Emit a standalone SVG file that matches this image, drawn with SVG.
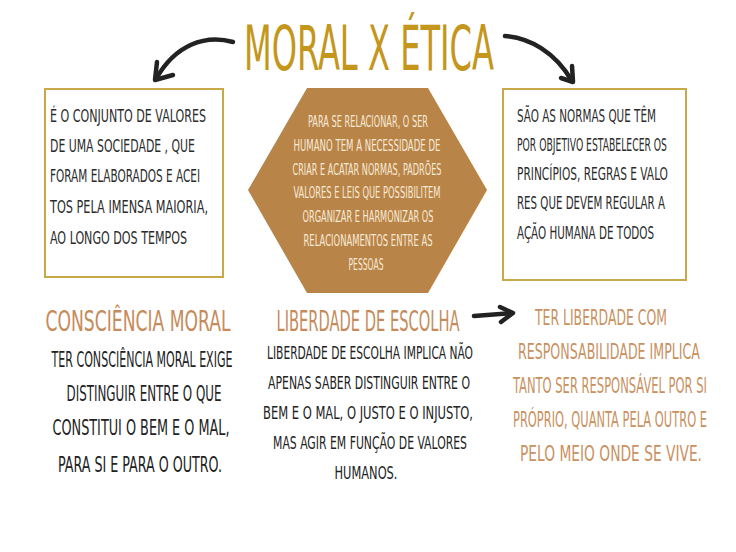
<svg xmlns="http://www.w3.org/2000/svg" width="736" height="552" viewBox="0 0 736 552">
<defs>
<style>
text{font-family:"Liberation Sans Narrow","DejaVu Sans Condensed","Liberation Sans",sans-serif;}
.title{font-size:62px;fill:#c4961c;}
.box{fill:#fff;stroke:#c9a84a;stroke-width:2;}
.bt{font-size:17.5px;fill:#2b2b2b;}
.ht{font-size:15px;fill:#f7ead8;text-anchor:middle;}
.hd{font-size:28px;fill:#c68b5a;text-anchor:middle;}
.lt{font-size:21px;fill:#222;text-anchor:middle;}
.mt{font-size:18.5px;fill:#222;text-anchor:middle;}
.rt{font-size:21px;fill:#c99060;text-anchor:middle;}
.arr{fill:none;stroke:#222;stroke-width:4.5;stroke-linecap:round;stroke-linejoin:round;}
</style>
</defs>
<rect width="736" height="552" fill="#fff"/>
<g id="title">
<text class="title" transform="translate(244,70) scale(0.5,1)" textLength="500" lengthAdjust="spacingAndGlyphs">MORAL X ÉTICA</text>
</g>
<g id="connectors">
<path class="arr" d="M233,42 C205,34 175,45 156,79"/>
<path class="arr" d="M157,62 L155,80 L173,75"/>
<path class="arr" d="M505,36 C530,38 555,52 572,81"/>
<path class="arr" d="M572,66 L573,82 L561,78"/>
<path class="arr" d="M474,316 L512,313"/>
<path class="arr" d="M500,307 L513,313 L501,322"/>
</g>
<g id="moral">
<rect class="box" x="45" y="89" width="178" height="188"/>
<text class="bt" transform="translate(50,122) scale(0.55,1)" textLength="283.6" lengthAdjust="spacingAndGlyphs">É O CONJUNTO DE VALORES</text>
<text class="bt" transform="translate(50,152) scale(0.55,1)" textLength="263.6" lengthAdjust="spacingAndGlyphs">DE UMA SOCIEDADE , QUE</text>
<text class="bt" transform="translate(50,182) scale(0.55,1)" textLength="272.7" lengthAdjust="spacingAndGlyphs">FORAM ELABORADOS E ACEI</text>
<text class="bt" transform="translate(50,213) scale(0.55,1)" textLength="287.3" lengthAdjust="spacingAndGlyphs">TOS PELA IMENSA MAIORIA,</text>
<text class="bt" transform="translate(50,244) scale(0.55,1)" textLength="249.1" lengthAdjust="spacingAndGlyphs">AO LONGO DOS TEMPOS</text>
</g>
<g id="hexagon">
<polygon points="307,88 428,88 487,190 428,293 307,293 248,190" fill="#b98447"/>
<text class="ht" transform="translate(368,127) scale(0.55,1)" textLength="218.2" lengthAdjust="spacingAndGlyphs">PARA SE RELACIONAR, O SER</text>
<text class="ht" transform="translate(367,151) scale(0.55,1)" textLength="267.3" lengthAdjust="spacingAndGlyphs">HUMANO TEM A NECESSIDADE DE</text>
<text class="ht" transform="translate(367,175) scale(0.55,1)" textLength="270.9" lengthAdjust="spacingAndGlyphs">CRIAR E ACATAR NORMAS, PADRÕES</text>
<text class="ht" transform="translate(367,198) scale(0.55,1)" textLength="267.3" lengthAdjust="spacingAndGlyphs">VALORES E LEIS QUE POSSIBILITEM</text>
<text class="ht" transform="translate(368,222) scale(0.55,1)" textLength="238.2" lengthAdjust="spacingAndGlyphs">ORGANIZAR E HARMONIZAR OS</text>
<text class="ht" transform="translate(368,246) scale(0.55,1)" textLength="234.5" lengthAdjust="spacingAndGlyphs">RELACIONAMENTOS ENTRE AS</text>
<text class="ht" transform="translate(366,270) scale(0.55,1)" textLength="63.6" lengthAdjust="spacingAndGlyphs">PESSOAS</text>
</g>
<g id="etica">
<rect class="box" x="503" y="89" width="183" height="191"/>
<text class="bt" transform="translate(517,122) scale(0.55,1)" textLength="252.7" lengthAdjust="spacingAndGlyphs">SÃO AS NORMAS QUE TÊM</text>
<text class="bt" transform="translate(517,151) scale(0.55,1)" textLength="272.7" lengthAdjust="spacingAndGlyphs">POR OBJETIVO ESTABELECER OS</text>
<text class="bt" transform="translate(517,180) scale(0.55,1)" textLength="274.5" lengthAdjust="spacingAndGlyphs">PRINCÍPIOS, REGRAS E VALO</text>
<text class="bt" transform="translate(517,209) scale(0.55,1)" textLength="269.1" lengthAdjust="spacingAndGlyphs">RES QUE DEVEM REGULAR A</text>
<text class="bt" transform="translate(517,239) scale(0.55,1)" textLength="249.1" lengthAdjust="spacingAndGlyphs">AÇÃO HUMANA DE TODOS</text>
</g>
<g id="consciencia">
<text class="hd" transform="translate(138,331) scale(0.55,1)" textLength="336.4" lengthAdjust="spacingAndGlyphs">CONSCIÊNCIA MORAL</text>
<text class="lt" transform="translate(142,367) scale(0.55,1)" textLength="329.1" lengthAdjust="spacingAndGlyphs">TER CONSCIÊNCIA MORAL EXIGE</text>
<text class="lt" transform="translate(144,401) scale(0.55,1)" textLength="281.8" lengthAdjust="spacingAndGlyphs">DISTINGUIR ENTRE O QUE</text>
<text class="lt" transform="translate(141,435) scale(0.55,1)" textLength="321.8" lengthAdjust="spacingAndGlyphs">CONSTITUI O BEM E O MAL,</text>
<text class="lt" transform="translate(140,472) scale(0.55,1)" textLength="298.2" lengthAdjust="spacingAndGlyphs">PARA SI E PARA O OUTRO.</text>
</g>
<g id="liberdade">
<text class="hd" transform="translate(368,331) scale(0.55,1)" textLength="332.7" lengthAdjust="spacingAndGlyphs">LIBERDADE DE ESCOLHA</text>
<text class="mt" transform="translate(370,359) scale(0.55,1)" textLength="374.5" lengthAdjust="spacingAndGlyphs">LIBERDADE DE ESCOLHA IMPLICA NÃO</text>
<text class="mt" transform="translate(369,389) scale(0.55,1)" textLength="367.3" lengthAdjust="spacingAndGlyphs">APENAS SABER DISTINGUIR ENTRE O</text>
<text class="mt" transform="translate(368,419) scale(0.55,1)" textLength="381.8" lengthAdjust="spacingAndGlyphs">BEM E O MAL, O JUSTO E O INJUSTO,</text>
<text class="mt" transform="translate(370,449) scale(0.55,1)" textLength="352.7" lengthAdjust="spacingAndGlyphs">MAS AGIR EM FUNÇÃO DE VALORES</text>
<text class="mt" transform="translate(366,479) scale(0.55,1)" textLength="114.5" lengthAdjust="spacingAndGlyphs">HUMANOS.</text>
</g>
<g id="responsabilidade">
<text class="rt" transform="translate(601,325) scale(0.55,1)" textLength="240" lengthAdjust="spacingAndGlyphs">TER LIBERDADE COM</text>
<text class="rt" transform="translate(609,359) scale(0.55,1)" textLength="330.9" lengthAdjust="spacingAndGlyphs">RESPONSABILIDADE IMPLICA</text>
<text class="rt" transform="translate(610,393) scale(0.55,1)" textLength="352.7" lengthAdjust="spacingAndGlyphs">TANTO SER RESPONSÁVEL POR SI</text>
<text class="rt" transform="translate(610,427) scale(0.55,1)" textLength="352.7" lengthAdjust="spacingAndGlyphs">PRÓPRIO, QUANTA PELA OUTRO E</text>
<text class="rt" transform="translate(611,461) scale(0.55,1)" textLength="330.9" lengthAdjust="spacingAndGlyphs">PELO MEIO ONDE SE VIVE.</text>
</g>
</svg>
